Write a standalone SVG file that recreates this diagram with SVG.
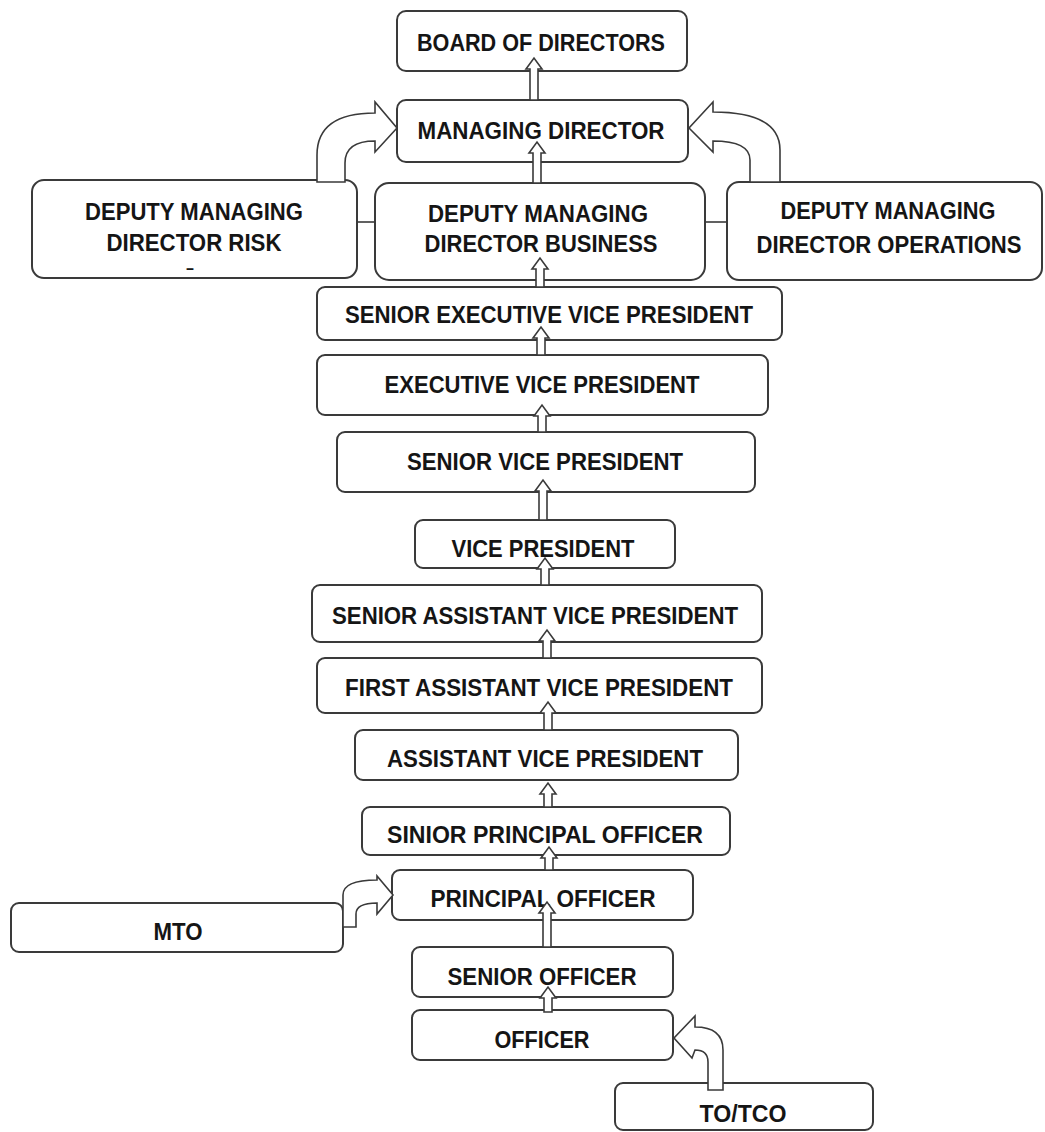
<svg xmlns="http://www.w3.org/2000/svg" width="1045" height="1132" viewBox="0 0 1045 1132">
<style>
.box{fill:#fff;stroke:#3a3a3a;stroke-width:2}
.t{font-family:"Liberation Sans",Arial,sans-serif;font-weight:bold;font-size:23px;fill:#151515;text-anchor:middle}
.ar{fill:#fff;stroke:#3a3a3a;stroke-width:1.6;stroke-linejoin:miter}
.ln{stroke:#3a3a3a;stroke-width:1.6;fill:none}
</style>
<rect width="1045" height="1132" fill="#fff"/>
<g id="n-board"><rect class="box" x="397" y="11" width="290" height="60" rx="9"/><text class="t" x="541" y="51" textLength="248" lengthAdjust="spacingAndGlyphs">BOARD OF DIRECTORS</text></g>
<g id="n-md"><rect class="box" x="397" y="100" width="291" height="62" rx="9"/><text class="t" x="541" y="139" textLength="247" lengthAdjust="spacingAndGlyphs">MANAGING DIRECTOR</text></g>
<g id="n-dmd-risk"><rect class="box" x="32" y="180" width="325" height="98" rx="12"/><text class="t" x="194" y="220" textLength="218" lengthAdjust="spacingAndGlyphs">DEPUTY MANAGING</text><text class="t" x="194" y="251" textLength="175" lengthAdjust="spacingAndGlyphs">DIRECTOR RISK</text><text class="t" x="190" y="273" style="font-size:15px" textLength="9" lengthAdjust="spacingAndGlyphs">-</text></g>
<g id="n-dmd-business"><rect class="box" x="375" y="183" width="330" height="97" rx="14"/><text class="t" x="538" y="222" textLength="220" lengthAdjust="spacingAndGlyphs">DEPUTY MANAGING</text><text class="t" x="541" y="252" textLength="233" lengthAdjust="spacingAndGlyphs">DIRECTOR BUSINESS</text></g>
<g id="n-dmd-operations"><rect class="box" x="727" y="182" width="315" height="98" rx="12"/><text class="t" x="888" y="219" textLength="215" lengthAdjust="spacingAndGlyphs">DEPUTY MANAGING</text><text class="t" x="889" y="253" textLength="265" lengthAdjust="spacingAndGlyphs">DIRECTOR OPERATIONS</text></g>
<g id="n-sevp"><rect class="box" x="317" y="287" width="465" height="53" rx="8"/><text class="t" x="549" y="323" textLength="408" lengthAdjust="spacingAndGlyphs">SENIOR EXECUTIVE VICE PRESIDENT</text></g>
<g id="n-evp"><rect class="box" x="317" y="355" width="451" height="60" rx="8"/><text class="t" x="542" y="393" textLength="315" lengthAdjust="spacingAndGlyphs">EXECUTIVE VICE PRESIDENT</text></g>
<g id="n-svp"><rect class="box" x="337" y="432" width="418" height="60" rx="8"/><text class="t" x="545" y="470" textLength="276" lengthAdjust="spacingAndGlyphs">SENIOR VICE PRESIDENT</text></g>
<g id="n-vp"><rect class="box" x="415" y="520" width="260" height="48" rx="8"/><text class="t" x="543" y="557" textLength="183" lengthAdjust="spacingAndGlyphs">VICE PRESIDENT</text></g>
<g id="n-savp"><rect class="box" x="312" y="585" width="450" height="57" rx="8"/><text class="t" x="535" y="624" textLength="406" lengthAdjust="spacingAndGlyphs">SENIOR ASSISTANT VICE PRESIDENT</text></g>
<g id="n-favp"><rect class="box" x="317" y="658" width="445" height="55" rx="8"/><text class="t" x="539" y="696" textLength="388" lengthAdjust="spacingAndGlyphs">FIRST ASSISTANT VICE PRESIDENT</text></g>
<g id="n-avp"><rect class="box" x="355" y="730" width="383" height="50" rx="8"/><text class="t" x="545" y="767" textLength="316" lengthAdjust="spacingAndGlyphs">ASSISTANT VICE PRESIDENT</text></g>
<g id="n-spo"><rect class="box" x="362" y="807" width="368" height="48" rx="8"/><text class="t" x="545" y="843" textLength="316" lengthAdjust="spacingAndGlyphs">SINIOR PRINCIPAL OFFICER</text></g>
<g id="n-po"><rect class="box" x="392" y="870" width="301" height="50" rx="8"/><text class="t" x="543" y="907" textLength="225" lengthAdjust="spacingAndGlyphs">PRINCIPAL OFFICER</text></g>
<g id="n-mto"><rect class="box" x="11" y="903" width="332" height="49" rx="8"/><text class="t" x="178" y="940" textLength="49" lengthAdjust="spacingAndGlyphs">MTO</text></g>
<g id="n-so"><rect class="box" x="412" y="947" width="261" height="50" rx="8"/><text class="t" x="542" y="985" textLength="189" lengthAdjust="spacingAndGlyphs">SENIOR OFFICER</text></g>
<g id="n-officer"><rect class="box" x="412" y="1010" width="261" height="50" rx="8"/><text class="t" x="542" y="1048" textLength="95" lengthAdjust="spacingAndGlyphs">OFFICER</text></g>
<g id="n-totco"><rect class="box" x="615" y="1083" width="258" height="47" rx="8"/><text class="t" x="743" y="1122" textLength="87" lengthAdjust="spacingAndGlyphs">TO/TCO</text></g>
<g id="connectors">
<line class="ln" x1="357" y1="222" x2="375" y2="222"/>
<line class="ln" x1="705" y1="222" x2="727" y2="222"/>
<path class="ar" d="M530,100 L530,69 L526,69 L534,58 L542,69 L538,69 L538,100 Z"/>
<path class="ar" d="M533,183 L533,153 L529,153 L537,142 L545,153 L541,153 L541,183 Z"/>
<path class="ar" d="M536,287 L536,269 L532,269 L540,258 L548,269 L544,269 L544,287 Z"/>
<path class="ar" d="M537,355 L537,338 L533,338 L541,327 L549,338 L545,338 L545,355 Z"/>
<path class="ar" d="M538,432 L538,416 L534,416 L542,405 L550,416 L546,416 L546,432 Z"/>
<path class="ar" d="M539,520 L539,491 L535,491 L543,480 L551,491 L547,491 L547,520 Z"/>
<path class="ar" d="M541,585 L541,569 L537,569 L545,558 L553,569 L549,569 L549,585 Z"/>
<path class="ar" d="M543,658 L543,641 L539,641 L547,630 L555,641 L551,641 L551,658 Z"/>
<path class="ar" d="M544,730 L544,713 L540,713 L548,702 L556,713 L552,713 L552,730 Z"/>
<path class="ar" d="M544,807 L544,794 L540,794 L548,783 L556,794 L552,794 L552,807 Z"/>
<path class="ar" d="M545,870 L545,858 L541,858 L549,847 L557,858 L553,858 L553,870 Z"/>
<path class="ar" d="M543,947 L543,913 L539,913 L547,902 L555,913 L551,913 L551,947 Z"/>
<path class="ar" d="M544,1012 L544,998 L540,998 L548,987 L556,998 L552,998 L552,1012 Z"/>
<path class="ar" d="M317,182 L317,155 Q317,113 375,113 L375,102 L397,128 L375,152 L375,141 Q345,141 345,163 L345,182 Z"/>
<path class="ar" d="M780,182 L780,150 Q780,112 713,112 L713,102 L689,128 L713,152 L713,141 Q750,141 750,160 L750,182 Z"/>
<path class="ar" d="M343,927 L343,895 Q343,880 377,880 L377,876 L393,895 L377,914 L377,903 Q356,903 356,914 L356,927 Z"/>
<path class="ar" d="M723,1090 L723,1050 Q723,1027 695,1027 L695,1016 L674,1038 L692,1058 L695,1050 Q708,1050 708,1062 L708,1090 Z"/>
</g>
</svg>
